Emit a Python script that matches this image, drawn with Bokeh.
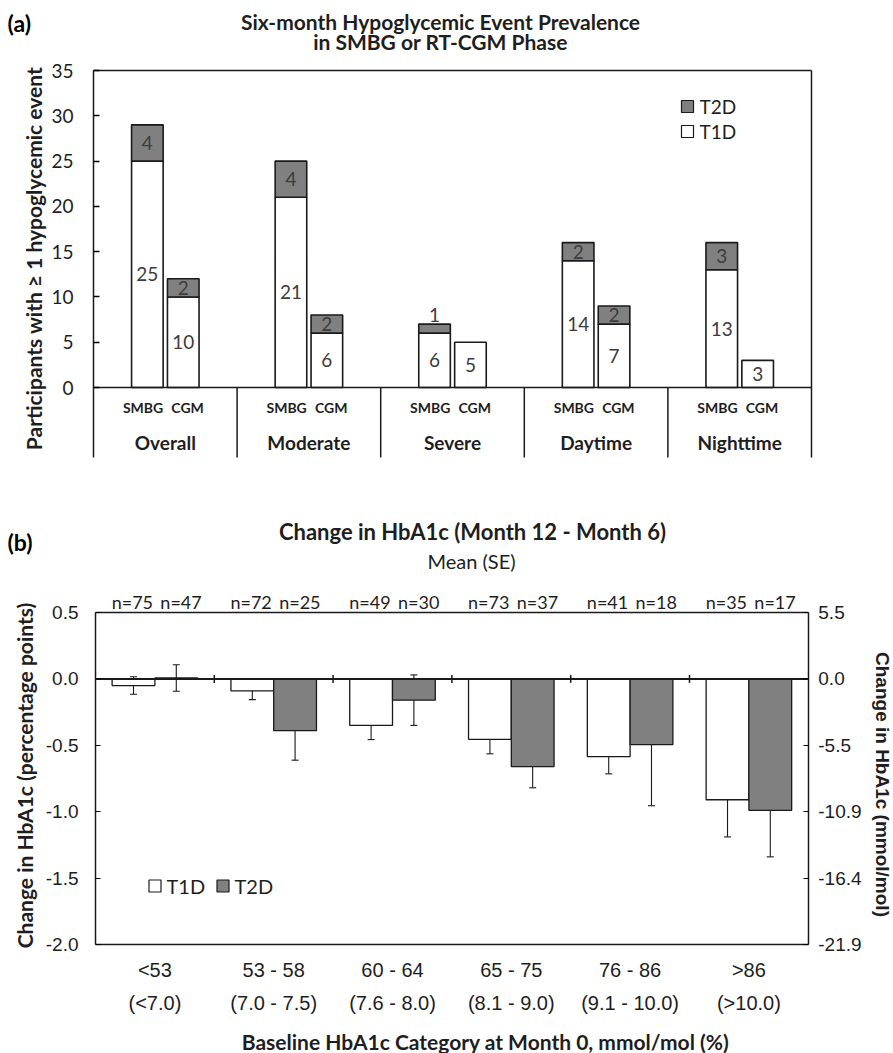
import math
from bokeh.plotting import figure
from bokeh.layouts import column
from bokeh.models import (ColumnDataSource, LinearAxis, FixedTicker, Whisker, TeeHead,
                          Range1d, PrintfTickFormatter)
from bokeh.core.properties import value
from bokeh.embed import file_html
from bokeh.resources import INLINE

# ---------------- data: panel (a) ----------------
groups_a = ["Overall", "Moderate", "Severe", "Daytime", "Nighttime"]
phases_a = ["SMBG", "CGM"]
t1d_smbg = [25, 21, 6, 14, 13]
t1d_cgm = [10, 6, 5, 7, 3]
t2d_smbg = [4, 4, 1, 2, 3]
t2d_cgm = [2, 2, 0, 2, 0]
y_ticks_a = [0, 5, 10, 15, 20, 25, 30, 35]

# ---------------- data: panel (b) ----------------
cats_mmol = ["<53", "53 - 58", "60 - 64", "65 - 75", "76 - 86", ">86"]
cats_pct = ["(<7.0)", "(7.0 - 7.5)", "(7.6 - 8.0)", "(8.1 - 9.0)", "(9.1 - 10.0)", "(>10.0)"]
t1d_mean = [-0.05, -0.09, -0.35, -0.455, -0.585, -0.91]
t1d_se = [0.066, 0.066, 0.107, 0.109, 0.13, 0.28]
t2d_mean = [0.007, -0.39, -0.16, -0.66, -0.495, -0.99]
t2d_se = [0.10, 0.222, 0.19, 0.16, 0.46, 0.35]
t1d_n = [75, 72, 49, 73, 41, 35]
t2d_n = [47, 25, 30, 37, 18, 17]
y_ticks_b = [0.5, 0.0, -0.5, -1.0, -1.5, -2.0]
y_ticks_b_mmol = ["5.5", "0.0", "-5.5", "-10.9", "-16.4", "-21.9"]

CAL = "Lato"
ARIAL = "Liberation Sans"
GRAY = "#808080"
INK = "#1e1e1e"
NUM = "#3c3c3c"
LINE = "#1a1a1a"

W = 893
HA = 488
HB = 565

# pixel -> data helpers (layout only)
def XA(px):
    return -0.5 + (px - 93) / 143.6

def YA(py):
    return (387 - py) / 9.057

def XB(px):
    return -0.5 + (px - 95) / 118.8

def YB(py):
    return (678.4 - py) / 132.8

# =================== PANEL (a) ===================
n = len(groups_a)
YA_BOT = YA(457)
pa = figure(width=W, height=HA, output_backend="svg", toolbar_location=None,
            x_range=Range1d(XA(0), XA(W)), y_range=Range1d(YA(HA), YA(0)),
            x_axis_location=None, y_axis_location=None, min_border=0)
pa.outline_line_color = None
pa.grid.visible = False

ya = LinearAxis(fixed_location=-0.5, bounds=(YA_BOT, y_ticks_a[-1]),
                ticker=FixedTicker(ticks=y_ticks_a))
ya.major_tick_in = 6
ya.major_tick_out = 0
ya.minor_tick_line_color = None
ya.axis_line_width = 1.5
ya.major_tick_line_width = 1.5
ya.axis_line_color = LINE
ya.major_label_text_font = CAL
ya.major_label_text_font_size = "19px"
ya.major_label_text_color = INK
ya.major_label_standoff = 20
pa.add_layout(ya, "left")

xs, t1, t2 = [], [], []
for i in range(n):
    xs += [i - 0.125, i + 0.125]
    t1 += [t1d_smbg[i], t1d_cgm[i]]
    t2 += [t2d_smbg[i], t2d_cgm[i]]
tops = [a + b for a, b in zip(t1, t2)]

pa.vbar(x=xs, bottom=0, top=t1, width=0.22, fill_color="white",
        line_color=LINE, line_width=1.6)
k2 = [j for j in range(len(xs)) if t2[j] > 0]
pa.vbar(x=[xs[j] for j in k2], bottom=[t1[j] for j in k2], top=[tops[j] for j in k2],
        width=0.22, fill_color=GRAY, line_color=LINE, line_width=1.6)

# value labels
pa.text(x=xs, y=[v / 2 for v in t1], text=[str(v) for v in t1],
        text_align="center", text_baseline="middle", text_font=value(CAL),
        text_font_size="19px", text_color=NUM)
lx, ly, lt = [], [], []
for j in k2:
    lx.append(xs[j])
    ly.append(t1[j] + t2[j] / 2 if t2[j] >= 2 else tops[j] + 1.05)
    lt.append(str(t2[j]))
pa.text(x=lx, y=ly, text=lt, text_align="center", text_baseline="middle",
        text_font=value(CAL), text_font_size="19px", text_color=NUM)

# frame lines: top, baseline, right edge, group separators
ytop = y_ticks_a[-1]
pa.segment(x0=[-0.5, -0.5], y0=[ytop, 0], x1=[n - 0.5, n - 0.5], y1=[ytop, 0],
           line_color=LINE, line_width=1.5)
pa.segment(x0=[n - 0.5], y0=[YA_BOT], x1=[n - 0.5], y1=[ytop], line_color=LINE, line_width=1.5)
seps = [i + 0.5 for i in range(n - 1)]
pa.segment(x0=seps, y0=0, x1=seps, y1=YA_BOT, line_color=LINE, line_width=1.5)

# category labels
px, pt = [], []
for i in range(n):
    px += [i - 0.155, i + 0.155]
    pt += phases_a
pa.text(x=px, y=YA(407), text=pt, text_align="center", text_baseline="middle",
        text_font=value(CAL), text_font_style="bold", text_font_size="14px", text_color=INK)
pa.text(x=list(range(n)), y=YA(442), text=groups_a, text_align="center", text_baseline="middle",
        text_font=value(CAL), text_font_style="bold", text_font_size="19px", text_color=INK)

# legend (a)
pa.rect(x=[XA(687)] * 2, y=[YA(106), YA(131)], width=12, height=12, width_units="screen",
        height_units="screen", fill_color=[GRAY, "white"], line_color=LINE, line_width=1.2)
pa.text(x=[XA(699)] * 2, y=[YA(106), YA(131)], text=["T2D", "T1D"], text_align="left",
        text_baseline="middle", text_font=value(CAL), text_font_size="19px", text_color=INK)

# titles (a)
pa.text(x=[XA(440)] * 2, y=[YA(21), YA(41)],
        text=["Six-month Hypoglycemic Event Prevalence", "in SMBG or RT-CGM Phase"],
        text_align="center", text_baseline="middle", text_font=value(CAL),
        text_font_style="bold", text_font_size="21px", text_color=INK)
pa.text(x=[XA(7)], y=[YA(22)], text=["(a)"], text_align="left", text_baseline="middle",
        text_font=value(CAL), text_font_style="bold", text_font_size="23px", text_color="black")
pa.text(x=[XA(33)], y=[YA(258)], text=["Participants with \u2265 1 hypoglycemic event"],
        angle=math.pi / 2, text_align="center", text_baseline="middle", text_font=value(CAL),
        text_font_style="bold", text_font_size="21px", text_color=INK)

# =================== PANEL (b) ===================
m = len(cats_mmol)
pb = figure(width=W, height=HB, output_backend="svg", toolbar_location=None,
            x_range=Range1d(XB(0), XB(W)), y_range=Range1d(YB(488 + HB), YB(488)),
            x_axis_location=None, y_axis_location=None, min_border=0)
pb.outline_line_color = None
pb.grid.visible = False
yb_top, yb_bot = y_ticks_b[0], y_ticks_b[-1]

def style_y(ax, standoff):
    ax.major_tick_in = 5
    ax.major_tick_out = 0
    ax.minor_tick_line_color = None
    ax.axis_line_width = 1.5
    ax.major_tick_line_width = 1.2
    ax.axis_line_color = LINE
    ax.major_label_text_font = ARIAL
    ax.major_label_text_font_size = "19px"
    ax.major_label_text_color = INK
    ax.major_label_standoff = standoff

yl = LinearAxis(fixed_location=-0.5, bounds=(yb_bot, yb_top), ticker=FixedTicker(ticks=y_ticks_b),
                formatter=PrintfTickFormatter(format="%.1f"))
style_y(yl, 17)
pb.add_layout(yl, "left")
yr = LinearAxis(fixed_location=m - 0.5, bounds=(yb_bot, yb_top), ticker=FixedTicker(ticks=y_ticks_b),
                major_label_overrides=dict(zip(y_ticks_b, y_ticks_b_mmol)))
style_y(yr, 10)
pb.add_layout(yr, "right")

xb1 = LinearAxis(fixed_location=yb_bot, bounds=(-0.5, m - 0.5), ticker=FixedTicker(ticks=list(range(m))),
                 major_label_overrides={i: cats_mmol[i] for i in range(m)})
xb2 = LinearAxis(fixed_location=yb_bot, bounds=(-0.5, m - 0.5), ticker=FixedTicker(ticks=list(range(m))),
                 major_label_overrides={i: cats_pct[i] for i in range(m)})
for ax in [xb1, xb2]:
    ax.major_tick_line_color = None
    ax.minor_tick_line_color = None
    ax.major_label_text_font = ARIAL
    ax.major_label_text_font_size = "20px"
    ax.major_label_text_color = INK
xb1.axis_line_width = 1.5
xb1.axis_line_color = LINE
xb1.major_label_standoff = 8
xb2.axis_line_color = None
xb2.major_label_standoff = 41
pb.add_layout(xb1, "below")
pb.add_layout(xb2, "below")

x1 = [i - 0.18 for i in range(m)]
x2 = [i + 0.18 for i in range(m)]
pb.vbar(x=x1, bottom=0, top=t1d_mean, width=0.36, fill_color="white",
        line_color=LINE, line_width=1.3)
pb.vbar(x=x2, bottom=0, top=t2d_mean, width=0.36, fill_color=GRAY,
        line_color=LINE, line_width=1.3)

# top frame line and zero line
pb.segment(x0=[-0.5], y0=[yb_top], x1=[m - 0.5], y1=[yb_top], line_color=LINE, line_width=1.5)
pb.segment(x0=[-0.5], y0=[0], x1=[m - 0.5], y1=[0], line_color=LINE, line_width=2)
bnd = [i + 0.5 for i in range(m - 1)]
pb.segment(x0=bnd, y0=-0.03, x1=bnd, y1=0.03, line_color=LINE, line_width=1.5)

err = ColumnDataSource(dict(
    x=x1 + x2,
    upper=[a + s for a, s in zip(t1d_mean, t1d_se)] + [a + s for a, s in zip(t2d_mean, t2d_se)],
    lower=[a - s for a, s in zip(t1d_mean, t1d_se)] + [a - s for a, s in zip(t2d_mean, t2d_se)],
))
pb.add_layout(Whisker(source=err, base="x", upper="upper", lower="lower",
                      line_color=LINE, line_width=1.1,
                      upper_head=TeeHead(size=7, line_color=LINE, line_width=1.1),
                      lower_head=TeeHead(size=7, line_color=LINE, line_width=1.1)))

# n labels
pb.text(x=[i - 0.19 for i in range(m)] + [i + 0.22 for i in range(m)],
        y=YB(601), text=["n=%d" % v for v in t1d_n] + ["n=%d" % v for v in t2d_n],
        text_align="center", text_baseline="middle", text_font=value(CAL),
        text_font_size="18px", text_color=INK)

# legend (b)
pb.rect(x=[XB(154.5), XB(222.5)], y=[YB(885.5)] * 2, width=12, height=12, width_units="screen",
        height_units="screen", fill_color=["white", GRAY], line_color=LINE, line_width=1.2)
pb.text(x=[XB(166), XB(234)], y=[YB(885.5)] * 2, text=["T1D", "T2D"], text_align="left",
        text_baseline="middle", text_font=value(CAL), text_font_size="20px", text_color=INK)

# titles (b)
pb.text(x=[XB(472)], y=[YB(531)], text=["Change in HbA1c (Month 12 - Month 6)"],
        text_align="center", text_baseline="middle", text_font=value(CAL),
        text_font_style="bold", text_font_size="22px", text_color=INK)
pb.text(x=[XB(471)], y=[YB(560)], text=["Mean (SE)"],
        text_align="center", text_baseline="middle", text_font=value(CAL),
        text_font_size="20px", text_color=INK)
pb.text(x=[XB(7)], y=[YB(541)], text=["(b)"], text_align="left", text_baseline="middle",
        text_font=value(CAL), text_font_style="bold", text_font_size="23px", text_color="black")
pb.text(x=[XB(24)], y=[YB(775)], text=["Change in HbA1c (percentage points)"],
        angle=math.pi / 2, text_align="center", text_baseline="middle", text_font=value(CAL),
        text_font_style="bold", text_font_size="21px", text_color=INK)
pb.text(x=[XB(882)], y=[YB(784)], text=["Change in HbA1c (mmol/mol)"],
        angle=-math.pi / 2, text_align="center", text_baseline="middle", text_font=value(ARIAL),
        text_font_style="bold", text_font_size="19px", text_color=INK)
pb.text(x=[XB(485)], y=[YB(1041)], text=["Baseline HbA1c Category at Month 0, mmol/mol (%)"],
        text_align="center", text_baseline="middle", text_font=value(CAL),
        text_font_style="bold", text_font_size="21px", text_color=INK)

layout = column(pa, pb)
open("out.html", "w").write(file_html(layout, INLINE))
